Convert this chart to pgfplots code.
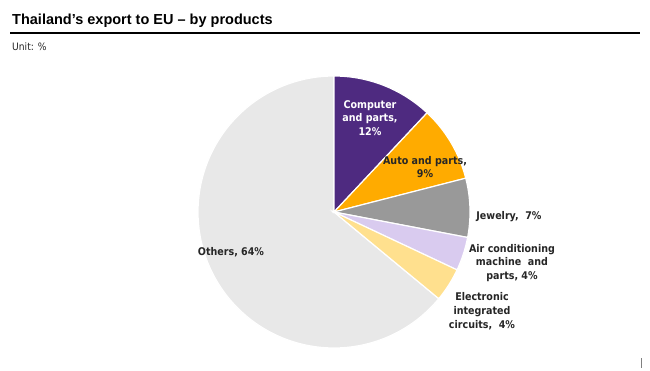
\documentclass[border=0pt]{standalone}
\usepackage{fontspec}
\setmainfont{Liberation Sans}
\newfontfamily\lab{DejaVu Sans Condensed}
\usepackage{pgfplots}
\pgfplotsset{compat=1.18}
\definecolor{cpurple}{HTML}{4E2A80}
\definecolor{corange}{HTML}{FFAB00}
\definecolor{cgrey}{HTML}{999999}
\definecolor{clav}{HTML}{D9CBEF}
\definecolor{cyel}{HTML}{FFE08E}
\definecolor{cother}{HTML}{E8E8E8}
\definecolor{ctext}{HTML}{262626}
\begin{document}
\begin{tikzpicture}[x=1pt,y=1pt]
\useasboundingbox (0,0) rectangle (650,371);
\fill[white] (0,0) rectangle (650,371);
\node[anchor=base west, inner sep=0, font=\bfseries\fontsize{14.5}{16}\selectfont] at (12,346) {Thailand’s export to EU – by products};
\draw[line width=2.5pt] (10,338) -- (640,338);
\node[anchor=base west, inner sep=0, font=\lab\fontsize{10.2}{11}\selectfont, text=ctext] at (12,320) {Unit: \%};
\draw[gray, line width=1pt] (641,3) -- (641,13);
\begin{axis}[at={(334pt,159pt)}, anchor=origin, scale only axis, width=272pt, height=272pt,
  xmin=-1, xmax=1, ymin=-1, ymax=1, hide axis, clip=false]
% percentages, clockwise from 12 o'clock: 12, 9, 7, 4, 4, 64
\addplot[fill=cother, draw=white, line width=1.2pt, domain={90-3.6*100}:{90-3.6*36}, samples=150, variable=\t] ({cos(\t)},{sin(\t)}) -- (0,0) -- cycle;
\addplot[fill=cpurple, draw=white, line width=1.2pt, domain={90-3.6*12}:{90-3.6*0}, samples=40, variable=\t] ({cos(\t)},{sin(\t)}) -- (0,0) -- cycle;
\addplot[fill=corange, draw=white, line width=1.2pt, domain={90-3.6*21}:{90-3.6*12}, samples=40, variable=\t] ({cos(\t)},{sin(\t)}) -- (0,0) -- cycle;
\addplot[fill=cgrey, draw=white, line width=1.2pt, domain={90-3.6*28}:{90-3.6*21}, samples=40, variable=\t] ({cos(\t)},{sin(\t)}) -- (0,0) -- cycle;
\addplot[fill=clav, draw=white, line width=1.2pt, domain={90-3.6*32}:{90-3.6*28}, samples=30, variable=\t] ({cos(\t)},{sin(\t)}) -- (0,0) -- cycle;
\addplot[fill=cyel, draw=white, line width=1.2pt, domain={90-3.6*36}:{90-3.6*32}, samples=30, variable=\t] ({cos(\t)},{sin(\t)}) -- (0,0) -- cycle;
\end{axis}
\begin{scope}[every node/.style={align=center, inner sep=0, font=\lab\bfseries\fontsize{10.6}{13.8}\selectfont, text=ctext}]
\node[text=white] at (370,253) {Computer\\and parts,\\12\%};
\node at (425,204) {Auto and parts,\\9\%};
\node at (509,154) {Jewelry,~ 7\%};
\node at (512,108) {Air conditioning\\machine~ and\\parts, 4\%};
\node at (482,60) {Electronic\\integrated\\circuits,~ 4\%};
\node at (231,119) {Others, 64\%};
\end{scope}
\end{tikzpicture}
\end{document}
